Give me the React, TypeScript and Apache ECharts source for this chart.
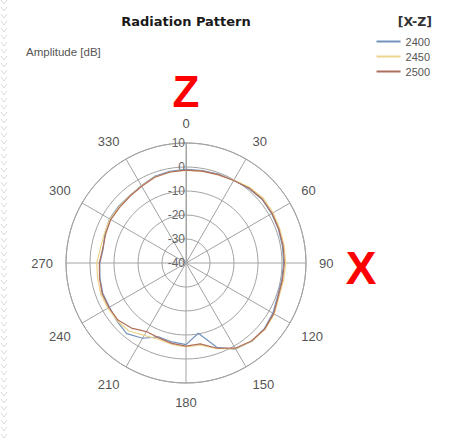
import React, { useEffect, useRef } from "react";
import * as echarts from "echarts";

const ANGLES = [0, 10, 20, 30, 40, 50, 60, 70, 80, 90, 100, 110, 120, 130, 140, 150, 160, 170, 180, 190, 200, 210, 220, 230, 240, 250, 260, 270, 280, 290, 300, 310, 320, 330, 340, 350];

const SERIES_NAMES = ["2400", "2450", "2500"];

const VALUES_2400 = [-1.0, -0.9, -0.6, -0.2, 0.6, 1.3, 1.2, 1.0, 0.8, 0.7, 0.5, 0.6, 1.8, 2.6, 2.6, 1.4, -2.6, -10.3, -6.0, -6.6, -7.2, -3.8, -1.6, -2.4, -3.2, -3.1, -3.6, -4.1, -5.0, -4.0, -3.2, -3.3, -3.4, -2.8, -1.6, -1.2];
const VALUES_2450 = [-1.4, -1.2, -0.9, -0.1, 1.2, 2.0, 1.9, 1.6, 1.5, 1.6, 1.3, 1.2, 2.5, 3.0, 2.6, 1.2, -2.0, -5.2, -5.0, -5.6, -6.2, -5.2, -3.0, -2.6, -2.4, -2.2, -2.6, -2.8, -3.8, -3.8, -3.4, -3.6, -3.5, -2.9, -1.9, -1.6];
const VALUES_2500 = [-1.3, -1.1, -0.8, -0.3, 0.8, 1.5, 1.4, 1.2, 1.1, 1.0, 0.8, 0.9, 2.2, 2.8, 2.4, 1.0, -2.2, -5.8, -5.4, -6.0, -6.8, -7.0, -4.6, -3.0, -2.9, -2.8, -3.4, -3.9, -4.8, -4.4, -3.8, -3.9, -3.7, -3.1, -2.0, -1.5];

const RADIUS_MIN = -40;
const RADIUS_MAX = 10;
const RADIUS_STEP = 10;
const ANGLE_STEP = 30;

const COLORS = ["#7393bd", "#ecd48c", "#b06e5c"];

function toPolar(values: number[]) {
  const pts = values.map((v, i) => [v, ANGLES[i]]);
  pts.push([values[0], 360]);
  return pts;
}

export default function App() {
  const ref = useRef<HTMLDivElement>(null);

  useEffect(() => {
    if (!ref.current) return;
    const chart = echarts.init(ref.current, undefined, { renderer: "svg" });
    const font = '"Liberation Sans", Arial, sans-serif';
    const boldFont = '"DejaVu Sans", Verdana, sans-serif';
    const grid = "#a3a3a3";

    const zigzag: any[] = [];
    for (let y = 0; y < 441; y += 7) {
      zigzag.push({
        type: "polyline",
        shape: { points: [[1, y], [4, y + 4], [7, y]] },
        style: { stroke: "#dcdcdc", lineWidth: 1, fill: "none" },
        silent: true,
      });
    }

    chart.setOption({
      animation: false,
      backgroundColor: "#ffffff",
      polar: { center: [186, 263], radius: 120 },
      angleAxis: {
        type: "value",
        min: 0,
        max: 360,
        interval: ANGLE_STEP,
        startAngle: 90,
        clockwise: true,
        axisLine: { show: true, lineStyle: { color: grid, width: 1 } },
        axisTick: { show: false },
        axisLabel: {
          margin: 13,
          color: "#555",
          fontSize: 13,
          fontFamily: font,
          formatter: (v: number) => (v === 360 ? "" : String(v)),
        },
        splitLine: { show: true, lineStyle: { color: grid, width: 1 } },
      },
      radiusAxis: {
        type: "value",
        min: RADIUS_MIN,
        max: RADIUS_MAX,
        interval: RADIUS_STEP,
        axisLine: { show: true, lineStyle: { color: grid, width: 1 } },
        axisTick: { show: false },
        axisLabel: { color: "#666", fontSize: 12, fontFamily: font, margin: 1 },
        splitLine: { show: true, lineStyle: { color: grid, width: 1 } },
      },
      legend: {
        orient: "vertical",
        right: 24,
        top: 31,
        icon: "rect",
        itemWidth: 24,
        itemHeight: 2,
        itemGap: 4,
        textStyle: { color: "#555", fontSize: 11, fontFamily: font },
        data: SERIES_NAMES,
      },
      series: [VALUES_2400, VALUES_2450, VALUES_2500].map((vals, i) => ({
        name: SERIES_NAMES[i],
        type: "line",
        coordinateSystem: "polar",
        showSymbol: false,
        symbol: "none",
        smooth: false,
        lineStyle: { color: COLORS[i], width: 1.2 },
        itemStyle: { color: COLORS[i] },
        data: toPolar(vals),
        z: 3 + i,
      })),
      graphic: [
        ...zigzag,
        {
          type: "text",
          x: 186,
          y: 21,
          style: {
            text: "Radiation Pattern",
            fontSize: 13,
            fontWeight: "bold",
            fontFamily: boldFont,
            fill: "#1a1a1a",
            align: "center",
            verticalAlign: "middle",
          },
        },
        {
          type: "text",
          x: 432,
          y: 21,
          style: {
            text: "[X-Z]",
            fontSize: 12.5,
            fontWeight: "bold",
            fontFamily: boldFont,
            fill: "#333",
            align: "right",
            verticalAlign: "middle",
          },
        },
        {
          type: "text",
          x: 26,
          y: 52,
          style: {
            text: "Amplitude [dB]",
            fontSize: 11.5,
            fontFamily: font,
            fill: "#555",
            align: "left",
            verticalAlign: "middle",
          },
        },
        {
          type: "text",
          x: 186,
          y: 91,
          style: {
            text: "Z",
            fontSize: 44,
            fontWeight: "bold",
            fontFamily: font,
            fill: "#ff0000",
            align: "center",
            verticalAlign: "middle",
          },
        },
        {
          type: "text",
          x: 361,
          y: 268,
          style: {
            text: "X",
            fontSize: 46,
            fontWeight: "bold",
            fontFamily: font,
            fill: "#ff0000",
            align: "center",
            verticalAlign: "middle",
          },
        },
      ],
    });
    return () => chart.dispose();
  }, []);

  return (
    <div
      ref={ref}
      style={{ position: "fixed", left: 0, top: 0, width: 459, height: 441, background: "#fff" }}
    />
  );
}
